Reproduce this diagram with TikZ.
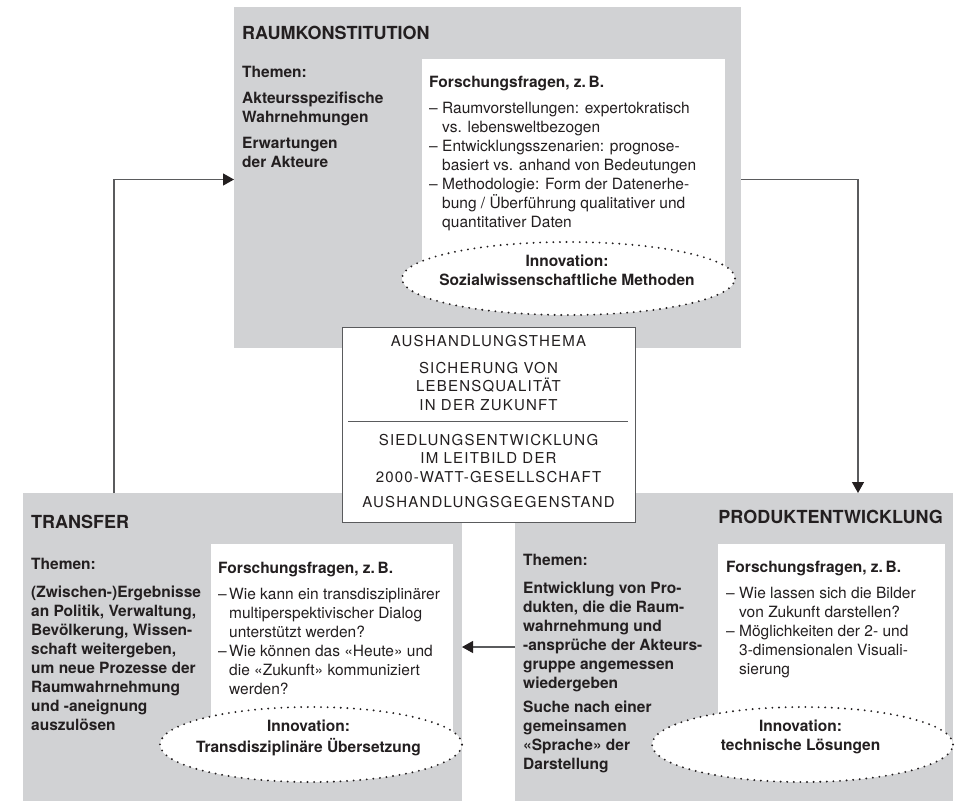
\documentclass[tikz,border=0pt]{standalone}
\usepackage{fontspec}
\setmainfont{TeX Gyre Heros}
\usetikzlibrary{arrows.meta,shapes.geometric}
\definecolor{boxgray}{HTML}{D1D2D4}
\definecolor{ink}{HTML}{231F20}
\definecolor{linegray}{HTML}{5A5B5D}
\newcommand{\bodyfont}{\fontsize{15.5}{19}\selectfont}
\newcommand{\innofont}{\fontsize{15.5}{18.5}\selectfont\bfseries}
\newcommand{\titlefont}{\fontsize{18}{22}\selectfont\bfseries}
\newcommand{\themafont}{\fontsize{15}{18.5}\selectfont\addfontfeature{LetterSpace=8}}
\newcommand{\itm}{\makebox[13pt][l]{–}}
\newcommand{\ind}{\hspace*{13pt}}
\begin{document}
\begin{tikzpicture}[x=1pt,y=-1pt,
  graybox/.style={fill=boxgray, draw=none, anchor=north west, inner sep=0pt, outer sep=0pt},
  whitebox/.style={fill=white, draw=none, anchor=north west, inner sep=0pt, outer sep=0pt},
  txt/.style={anchor=north west, inner sep=0pt, align=left, text=ink, font=\bodyfont},
  boldtxt/.style={txt, font=\bodyfont\bfseries},
  title/.style={anchor=base west, inner sep=0pt, text=ink, font=\titlefont},
  innov/.style={ellipse, draw=ink, fill=white, line width=2.1pt, line cap=round,
    dash pattern=on 0pt off 6.6pt, inner sep=0pt, outer sep=0pt},
  innotxt/.style={anchor=north, inner sep=0pt, align=center, text=ink, font=\innofont},
  thematxt/.style={anchor=north, inner sep=0pt, align=center, text=ink, font=\themafont},
  arr/.style={draw=linegray, line width=1.2pt, -{Triangle[length=11pt,width=12pt,color=ink]}}
]
\useasboundingbox (0,0) rectangle (960,801);

% ---------- RAUMKONSTITUTION ----------
\node[graybox, minimum width=507pt, minimum height=341pt] (raum) at (234,7) {};
\node[whitebox, minimum width=303pt, minimum height=220pt] (raumw) at (422,59) {};
\node[innov, minimum width=333pt, minimum height=73pt] (raumi) at (568.5,278.5) {};
\node[title] (raumt) at (242,39) {RAUMKONSTITUTION};
\node[boldtxt] (raumth) at (242,63.7) {\strut Themen:\\[7pt]
  Akteursspezifische\\ Wahrnehmungen\\[7pt]
  Erwartungen\\ der Akteure};
\node[txt] (raumf) at (429,73.7) {\strut\textbf{Forschungsfragen, z.\,B.}\\[7pt]
  \itm Raumvorstellungen: expertokratisch\\
  \ind vs. lebensweltbezogen\\
  \itm Entwicklungsszenarien: prognose-\\
  \ind basiert vs. anhand von Bedeutungen\\
  \itm Methodologie: Form der Datenerhe-\\
  \ind bung / Überführung qualitativer und\\
  \ind quantitativer Daten};
\node[innotxt] (raumit) at (567,253.7) {\strut Innovation:\\ Sozialwissenschaftliche Methoden};

% ---------- TRANSFER ----------
\node[graybox, minimum width=439pt, minimum height=308pt] (transfer) at (23,493) {};
\node[whitebox, minimum width=242pt, minimum height=200pt] (transw) at (211,544) {};
\node[innov, minimum width=302pt, minimum height=75pt] (transi) at (311,744.5) {};
\node[title] (transt) at (31,528) {TRANSFER};
\node[boldtxt] (transth) at (31,555.7) {\strut Themen:\\[9pt]
  (Zwischen-)Ergebnisse\\ an Politik, Verwaltung,\\ Bevölkerung, Wissen-\\
  schaft weitergeben,\\ um neue Prozesse der\\ Raumwahrnehmung\\
  und -aneignung\\ auszulösen};
\node[txt] (transf) at (218,559.7) {\strut\textbf{Forschungsfragen, z.\,B.}\\[7pt]
  \makebox[11pt][l]{–}Wie kann ein transdisziplinärer\\
  \hspace*{11pt}multiperspektivischer Dialog\\
  \hspace*{11pt}unterstützt werden?\\
  \makebox[11pt][l]{–}Wie können das «Heute» und\\
  \hspace*{11pt}die «Zukunft» kommuniziert\\
  \hspace*{11pt}werden?};
\node[innotxt] (transit) at (308.5,718.7) {\strut Innovation:\\ Transdisziplinäre Übersetzung};

% ---------- PRODUKTENTWICKLUNG ----------
\node[graybox, minimum width=438pt, minimum height=308pt] (produkt) at (515,493) {};
\node[whitebox, minimum width=227pt, minimum height=200pt] (prodw) at (718,544) {};
\node[innov, minimum width=301pt, minimum height=75pt] (prodi) at (802.5,744.5) {};
\node[title, anchor=base east] (prodt) at (943,523) {PRODUKTENTWICKLUNG};
\node[boldtxt] (prodth) at (523,551.7) {\strut Themen:\\[9pt]
  Entwicklung von Pro-\\ dukten, die die Raum-\\ wahrnehmung und\\
  -ansprüche der Akteurs-\\ gruppe angemessen\\ wiedergeben\\[5pt]
  Suche nach einer\\ gemeinsamen\\ «Sprache» der\\ Darstellung};
\node[txt] (prodf) at (726,558.7) {\strut\textbf{Forschungsfragen, z.\,B.}\\[7pt]
  \itm Wie lassen sich die Bilder\\
  \ind von Zukunft darstellen?\\
  \itm Möglichkeiten der 2- und\\
  \ind 3-dimensionalen Visuali-\\
  \ind sierung};
\node[innotxt] (prodit) at (800.5,718.7) {\strut Innovation:\\ technische Lösungen};

% ---------- AUSHANDLUNGSTHEMA ----------
\node[draw=linegray, line width=1.1pt, fill=white, anchor=north west, inner sep=0pt,
  minimum width=293pt, minimum height=195pt] (thema) at (342,327) {};
\node[thematxt] (thema1) at (488.5,333) {\strut AUSHANDLUNGSTHEMA\\[8.5pt]
  SICHERUNG VON\\ LEBENSQUALITÄT\\ IN DER ZUKUNFT};
\node[thematxt] (thema2) at (488.5,432) {\strut SIEDLUNGSENTWICKLUNG\\
  IM LEITBILD DER\\ 2000-WATT-GESELLSCHAFT\\[6.5pt] AUSHANDLUNGSGEGENSTAND};
\draw[linegray, line width=1.1pt] ([shift={(6pt,3.5pt)}]thema.west) -- ([shift={(-8pt,3.5pt)}]thema.east);

% ---------- connectors ----------
\draw[arr] ([xshift=91pt]transfer.north west) |- ([yshift=-2pt]raum.west);
\draw[arr] ([yshift=-2pt]raum.east) -| ([xshift=124pt]produkt.north);
\draw[arr] (produkt.west) -- (transfer.east);
\end{tikzpicture}
\end{document}
